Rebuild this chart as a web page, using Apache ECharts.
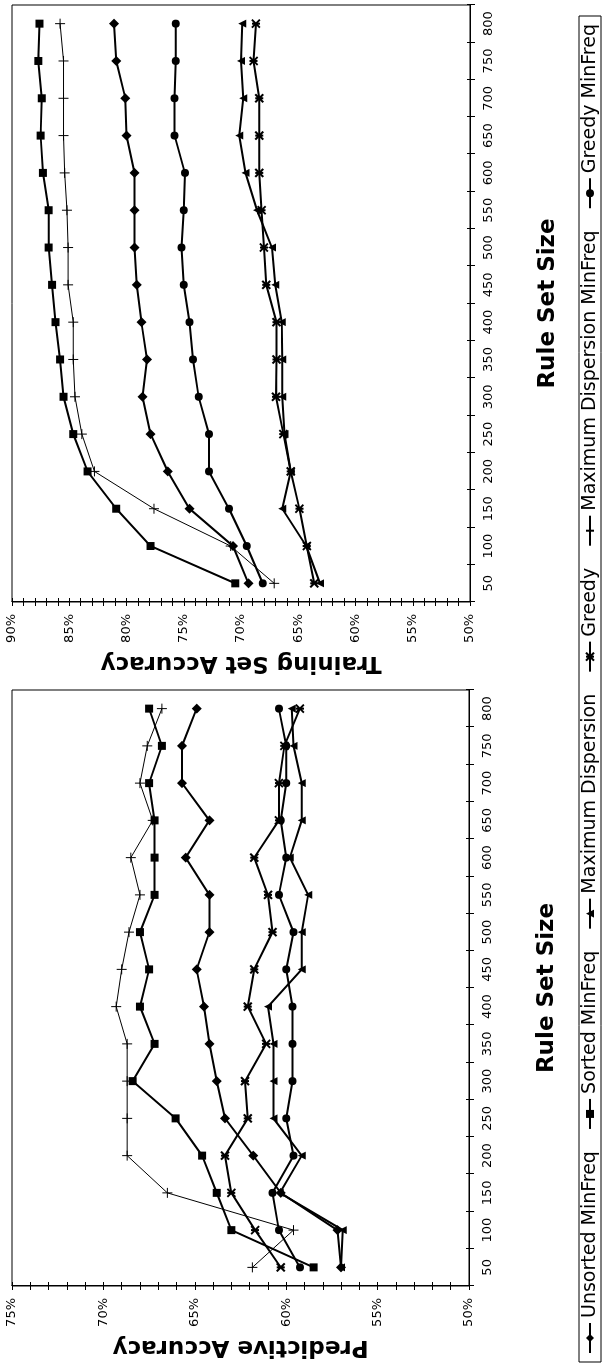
<!DOCTYPE html>
<html><head><meta charset="utf-8">
<script src="https://cdn.jsdelivr.net/npm/echarts@6/dist/echarts.min.js"></script>
<style>
html,body{margin:0;padding:0;background:#fff;overflow:hidden;}
#wrap{position:absolute;left:0;top:0;width:604px;height:1364px;overflow:hidden;background:#fff;}
#chart{position:absolute;left:0;top:0;width:1364px;height:604px;transform-origin:0 0;transform:translate(0,1364px) rotate(-90deg);}
</style></head><body><div id="wrap"><div id="chart"></div></div>
<script>
// ---------- data ----------
const ruleSetSizes = ['50','100','150','200','250','300','350','400','450','500','550','600','650','700','750','800'];
const seriesNames = ['Unsorted MinFreq','Sorted MinFreq','Maximum Dispersion','Greedy','Maximum Dispersion MinFreq','Greedy MinFreq'];

// Predictive accuracy (%)
const predUnsorted   = [57.0,57.2,60.3,61.8,63.35,63.8,64.2,64.5,64.9,64.2,64.2,65.5,64.2,65.7,65.7,64.9];
const predSorted     = [58.5,63.0,63.8,64.6,66.05,68.4,67.2,68.0,67.5,68.0,67.2,67.2,67.2,67.5,66.8,67.5];
const predMaxDisp    = [57.0,56.9,60.35,59.15,60.7,60.7,60.7,61.0,59.15,59.15,58.8,59.8,59.15,59.15,59.6,59.7];
const predGreedy     = [60.3,61.7,63.0,63.35,62.1,62.25,61.1,62.1,61.75,60.75,61.0,61.75,60.4,60.4,60.1,59.25];
const predMaxDispMF  = [61.85,59.6,66.5,68.7,68.7,68.7,68.7,69.3,69.0,68.6,68.0,68.5,67.3,68.0,67.6,66.8];
const predGreedyMF   = [59.25,60.4,60.75,59.6,60.0,59.65,59.65,59.65,60.0,59.6,60.4,60.0,60.3,60.0,60.0,60.4];

// Training set accuracy (%)
const trainUnsorted  = [69.35,70.7,74.5,76.4,77.9,78.6,78.2,78.7,79.1,79.3,79.3,79.3,80.0,80.1,80.9,81.1];
const trainSorted    = [70.5,77.9,80.9,83.4,84.65,85.5,85.8,86.2,86.5,86.8,86.8,87.3,87.5,87.4,87.7,87.6];
const trainMaxDisp   = [63.1,64.3,66.4,65.65,66.2,66.4,66.4,66.45,67.0,67.3,68.6,69.6,70.15,69.8,70.0,69.9];
const trainGreedy    = [63.6,64.25,64.9,65.65,66.3,66.95,66.9,66.9,67.8,68.0,68.2,68.4,68.4,68.4,68.9,68.7];
const trainMaxDispMF = [67.1,70.9,77.6,82.8,83.9,84.5,84.65,84.65,85.1,85.1,85.2,85.4,85.5,85.5,85.5,85.8];
const trainGreedyMF  = [68.1,69.5,71.05,72.8,72.8,73.7,74.2,74.5,75.0,75.2,75.0,74.9,75.8,75.8,75.7,75.7];

const predTicks  = {min:50, max:75, interval:5};
const trainTicks = {min:50, max:90, interval:5};

// ---------- styling ----------
const FONT = 'DejaVu Sans, Verdana, sans-serif';
const BLACK = '#000';
const STAR = 'path://M0,0L10,10M10,0L0,10M5,0L5,10';
const PLUS = 'path://M0,5L10,5M5,0L5,10';
const styles = [
  {symbol:'diamond', symbolSize:10, lw:2, bw:0, z:4},
  {symbol:'rect', symbolSize:8, lw:2, bw:0, z:2},
  {symbol:'triangle', symbolSize:8, lw:2, bw:0, z:2},
  {symbol:STAR, symbolSize:8, lw:2, bw:2, z:2},
  {symbol:PLUS, symbolSize:10, lw:1, bw:1, z:2},
  {symbol:'circle', symbolSize:8, lw:2, bw:0, z:2}
];
const predData  = [predUnsorted,predSorted,predMaxDisp,predGreedy,predMaxDispMF,predGreedyMF];
const trainData = [trainUnsorted,trainSorted,trainMaxDisp,trainGreedy,trainMaxDispMF,trainGreedyMF];

function mkSeries(dataArr, axisIdx){
  return dataArr.map((d,i)=>({
    name: seriesNames[i], type:'line', xAxisIndex:axisIdx, yAxisIndex:axisIdx,
    data:d, symbol:styles[i].symbol, symbolSize:styles[i].symbolSize,
    showSymbol:true, showAllSymbol:true, z:styles[i].z,
    lineStyle:{color:BLACK, width:styles[i].lw},
    itemStyle:{color:BLACK, borderColor:BLACK, borderWidth:styles[i].bw},
    emphasis:{disabled:true}
  }));
}

const TITLE_FS = 23;
function catAxes(gridIndex){
  return [{
    type:'category', gridIndex, data:ruleSetSizes, boundaryGap:true, position:'bottom',
    axisLine:{onZero:false, lineStyle:{color:BLACK, width:1}},
    axisTick:{show:true, interval:0, length:5, lineStyle:{color:BLACK}},
    axisLabel:{interval:0, margin:12, color:BLACK, fontSize:13, fontFamily:FONT},
    splitLine:{show:false},
    name:'Rule Set Size', nameLocation:'middle', nameGap:67,
    nameTextStyle:{fontSize:TITLE_FS, fontWeight:'bold', fontFamily:FONT, color:BLACK}
  },{
    type:'category', gridIndex, data:ruleSetSizes, boundaryGap:true, position:'bottom',
    axisLine:{show:false, onZero:false},
    axisTick:{show:true, inside:true, interval:0, length:3, lineStyle:{color:BLACK}},
    axisLabel:{show:false}, splitLine:{show:false}
  }];
}
function valAxes(gridIndex, t, title){
  const common = {type:'value', gridIndex, min:t.min, max:t.max, interval:t.interval, position:'left', splitLine:{show:false}};
  return [Object.assign({}, common, {
    axisLine:{show:true, onZero:false, lineStyle:{color:BLACK, width:1}},
    axisTick:{show:true, length:4, lineStyle:{color:BLACK}},
    minorTick:{show:true, splitNumber:5, length:4, lineStyle:{color:BLACK}},
    axisLabel:{formatter:'{value}%', margin:12, color:BLACK, fontSize:13, fontFamily:FONT},
    name:title, nameLocation:'middle', nameGap:49, nameRotate:90,
    nameTextStyle:{fontSize:TITLE_FS, fontWeight:'bold', fontFamily:FONT, color:BLACK}
  }), Object.assign({}, common, {
    axisLine:{show:false, onZero:false},
    axisTick:{show:true, inside:true, length:4, lineStyle:{color:BLACK}},
    minorTick:{show:true, splitNumber:5, length:4, lineStyle:{color:BLACK}},
    axisLabel:{show:false}
  })];
}

// legend item gap computed so the legend box spans the figure width
const LEGEND_W = 1340, ITEM_W = 30, PAD = 8, LFONT = 19;
const ctx = document.createElement('canvas').getContext('2d');
ctx.font = LFONT + 'px ' + FONT;
let used = PAD*2;
seriesNames.forEach(n=>{ used += ITEM_W + 5 + ctx.measureText(n).width; });
const gap = Math.max(4, (LEGEND_W - used) / (seriesNames.length - 1));

const chart = echarts.init(document.getElementById('chart'), null, {renderer:'canvas'});
chart.setOption({
  animation:false,
  backgroundColor:'#fff',
  grid:[
    {left:78, top:12, width:596, height:457, show:true, borderColor:BLACK, borderWidth:1, containLabel:false},
    {left:762, top:12, width:597, height:458, show:true, borderColor:BLACK, borderWidth:1, containLabel:false}
  ],
  xAxis:[...catAxes(0), ...catAxes(1)],
  yAxis:[...valAxes(0, predTicks, 'Predictive Accuracy'), ...valAxes(1, trainTicks, 'Training Set Accuracy')],
  legend:{
    data:seriesNames, left:2, top:579, orient:'horizontal',
    itemWidth:ITEM_W, itemHeight:10, itemGap:gap,
    padding:[1,PAD], borderColor:BLACK, borderWidth:1,
    textStyle:{fontSize:LFONT, lineHeight:20, fontFamily:FONT, color:BLACK},
    selectedMode:false
  },
  series:[...mkSeries(predData, 0), ...mkSeries(trainData, 2)]
});
</script></body></html>
